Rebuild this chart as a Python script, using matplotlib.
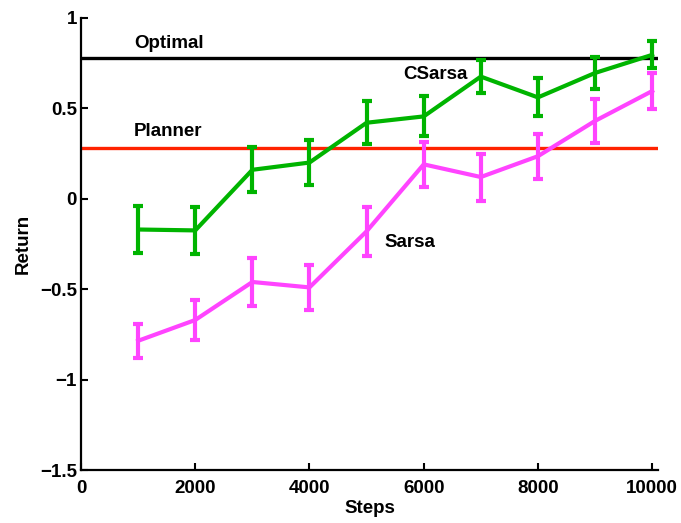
import numpy as np
import matplotlib
matplotlib.use('Agg')
import matplotlib.pyplot as plt

# Values
steps = [1000, 2000, 3000, 4000, 5000, 6000, 7000, 8000, 9000, 10000]
csarsa = [-0.17, -0.175, 0.16, 0.20, 0.42, 0.455, 0.675, 0.56, 0.695, 0.795]
csarsa_err = [0.13, 0.13, 0.125, 0.125, 0.12, 0.11, 0.09, 0.105, 0.09, 0.075]
sarsa = [-0.785, -0.67, -0.46, -0.49, -0.18, 0.19, 0.12, 0.235, 0.43, 0.595]
sarsa_err = [0.095, 0.11, 0.13, 0.125, 0.135, 0.125, 0.13, 0.125, 0.12, 0.10]
optimal = 0.775
planner = 0.28

plt.rcParams['font.family'] = ['Liberation Sans', 'DejaVu Sans']
plt.rcParams['font.weight'] = 'bold'

fig = plt.figure(figsize=(6.81, 5.23), dpi=100)
ax = fig.add_axes([0.119, 0.101, 0.847, 0.865])

ax.axhline(optimal, color='black', lw=2.4, zorder=2)
ax.axhline(planner, color='#ff2200', lw=2.4, zorder=2)

ax.errorbar(steps, sarsa, yerr=sarsa_err, color='#ff44ff', lw=3,
            elinewidth=3, capsize=3.5, capthick=3, zorder=3)
ax.errorbar(steps, csarsa, yerr=csarsa_err, color='#00b400', lw=3,
            elinewidth=3, capsize=3.5, capthick=3, zorder=4)

fs = 13.5
ax.text(930, 0.86, 'Optimal', fontsize=fs, fontweight='bold', va='center')
ax.text(930, 0.37, 'Planner', fontsize=fs, fontweight='bold', va='center')
ax.text(5640, 0.685, 'CSarsa', fontsize=fs, fontweight='bold', va='center')
ax.text(5320, -0.24, 'Sarsa', fontsize=fs, fontweight='bold', va='center')

ax.set_xlim(0, 10100)
ax.set_ylim(-1.5, 1)
ax.set_xticks(np.arange(0, 10001, 2000))
ax.set_yticks([-1.5, -1, -0.5, 0, 0.5, 1])
ax.set_yticklabels(['\u22121.5', '\u22121', '\u22120.5', '0', '0.5', '1'])
ax.tick_params(direction='in', length=5, width=1.5, labelsize=fs)
ax.tick_params(axis='x', pad=7)
ax.tick_params(axis='y', pad=3)
for lab in ax.get_xticklabels() + ax.get_yticklabels():
    lab.set_fontweight('bold')

for side in ['top', 'right']:
    ax.spines[side].set_visible(False)
for side in ['left', 'bottom']:
    ax.spines[side].set_linewidth(1.6)

ax.set_xlabel('Steps', fontsize=fs, fontweight='bold', labelpad=2)
ax.set_ylabel('Return', fontsize=fs, fontweight='bold', labelpad=6)

fig.savefig('out.png', dpi=100)
